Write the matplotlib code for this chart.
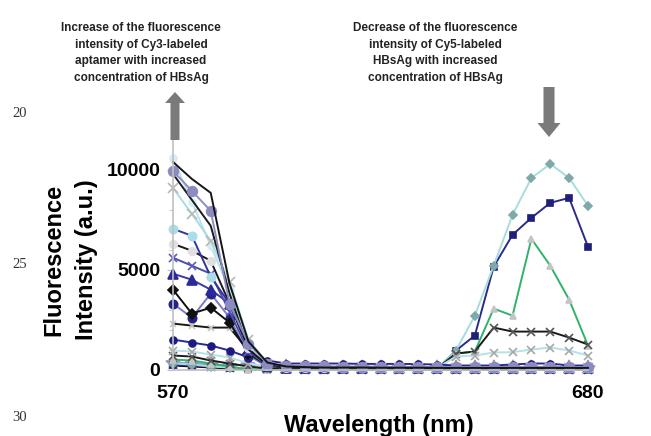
import matplotlib
matplotlib.use("Agg")
import matplotlib.pyplot as plt
from matplotlib.patches import FancyArrow

# wavelength grid (nm)
wavelength = [570, 575, 580, 585, 590, 595, 600, 605, 610, 615, 620, 625,
              630, 635, 640, 645, 650, 655, 660, 665, 670, 675, 680]

# fluorescence intensity (a.u.) for each spectrum
s_black_top = [10400, 9550, 8850, 4300, 1400, 350, 150, 120, 100, 100, 100, 90,
               90, 90, 80, 80, 80, 80, 80, 80, 80, 80, 80]
s_purple_circ = [9950, 8950, 7950, 3300, 1300, 300, 200, 180, 160, 150, 150, 140,
                 130, 130, 120, 120, 120, 120, 120, 120, 120, 120, 120]
s_black_2 = [9800, 8500, 7200, 3800, 1000, 250, 120, 100, 100, 90, 90, 80,
             80, 80, 70, 70, 70, 70, 70, 70, 70, 70, 70]
s_cyan_x = [9100, 7800, 6450, 4400, 1500, 300, 150, 130, 120, 110, 110, 100,
            100, 100, 100, 100, 100, 100, 100, 100, 100, 100, 100]
s_cyan_top = [10600, 8400, 6200, 4000, 1200, 250, 150, 130, 120, 110, 110, 100,
              100, 100, 100, 100, 100, 100, 100, 100, 100, 100, 100]
s_navy_cyan = [7050, 6700, 4650, 3300, 1300, 250, 120, 110, 110, 100, 100, 100,
               100, 100, 100, 100, 100, 100, 100, 100, 100, 100, 100]
s_black_gray = [6300, 5950, 5450, 3300, 1100, 200, 100, 100, 100, 100, 100, 90,
                90, 90, 90, 90, 90, 90, 90, 90, 90, 90, 90]
s_blue_x = [5600, 5200, 4800, 2900, 900, 200, 100, 100, 100, 100, 100, 100,
            100, 100, 100, 100, 100, 100, 100, 100, 100, 100, 100]
s_navy_tri = [4800, 4500, 4000, 3300, 1000, 200, 100, 100, 100, 100, 100, 100,
              100, 100, 100, 100, 100, 100, 100, 100, 100, 100, 100]
s_black_dia = [4000, 2800, 3100, 2350, 800, 200, 100, 90, 90, 90, 90, 90,
               90, 90, 90, 90, 90, 90, 90, 90, 90, 90, 90]
s_lav_circ = [3300, 2600, 3800, 2600, 700, 150, 100, 100, 100, 100, 100, 100,
              100, 100, 100, 100, 100, 100, 100, 100, 100, 100, 100]
s_black_flat = [2300, 2200, 2100, 2100, 950, 200, 80, 80, 80, 80, 80, 80,
                80, 80, 80, 80, 80, 80, 80, 80, 80, 80, 80]
s_navy_small = [1500, 1350, 1200, 950, 600, 450, 300, 300, 300, 300, 280, 280,
                280, 270, 250, 200, 200, 200, 250, 300, 300, 200, 200]
s_cyan_gray_x = [950, 900, 750, 600, 300, 150, 100, 100, 100, 100, 100, 100,
                 100, 100, 80, 650, 700, 850, 870, 1000, 1100, 950, 700]
s_black_x = [700, 650, 450, 300, 150, 50, 50, 50, 50, 50, 50, 50,
             50, 50, 50, 800, 900, 2100, 1900, 1900, 1900, 1600, 1250]
s_green = [500, 450, 300, 150, 0, 0, 0, 0, 0, 0, 0, 0,
           0, 0, 0, 800, 900, 3050, 2700, 6550, 5200, 3500, 1200]
s_cyan_dia = [300, 250, 150, 100, 50, 50, 50, 50, 50, 50, 50, 50,
              50, 50, 50, 950, 2700, 5200, 7750, 9600, 10300, 9600, 8200]
s_navy_sq = [250, 200, 150, 100, 50, 30, 30, 30, 30, 30, 30, 30,
             30, 30, 30, 950, 1700, 5150, 6750, 7600, 8350, 8600, 6150]
s_stars = [350, 300, 250, 200, 250, 150, 120, 100, 100, 100, 100, 100,
           100, 100, 100, 100, 100, 100, 100, 100, 100, 100, 100]
s_baseline = [200, 150, 100, 50, 0, 0, 0, 0, 0, 0, 0, 0,
              0, 0, 0, 0, 0, 0, 0, 0, 0, 0, 0]

# (values, line colour, marker, marker colour, marker size), drawn bottom-up
series = [
    (s_baseline, "#111111", None, None, 0),
    (s_stars, "#9a9ac8", "*", "#9595c4", 11),
    (s_navy_sq, "#2b2b8c", "s", "#1f1f78", 5),
    (s_cyan_dia, "#a9dcdc", "D", "#7fa8a8", 4),
    (s_green, "#2fb36a", "^", "#c4c4c4", 5),
    (s_black_x, "#1a1a1a", "x", "#555555", 6),
    (s_cyan_gray_x, "#b4e2e6", "x", "#a8a8a8", 6),
    (s_navy_small, "#2a2a96", "o", "#1c1c80", 5),
    (s_black_flat, "#1a1a1a", "x", "#c8c8c8", 5),
    (s_lav_circ, "#7b7bc4", "o", "#23238a", 6),
    (s_black_dia, "#111111", "D", "#111111", 5.5),
    (s_navy_tri, "#3a3aa6", "^", "#2a2a9a", 6.5),
    (s_blue_x, "#4c4cb0", "x", "#5a5abd", 6),
    (s_black_gray, "#1a1a1a", "o", "#e0e0e0", 5.5),
    (s_navy_cyan, "#3434a0", "o", "#a9dde8", 6),
    (s_cyan_top, "#b6e4ea", "o", "#d6eef2", 5),
    (s_cyan_x, "#a9dce2", "x", "#b8b8b8", 7),
    (s_black_2, "#1a1a1a", None, None, 0),
    (s_purple_circ, "#8d8dc4", "o", "#8b8bc2", 7),
    (s_black_top, "#151515", None, None, 0),
]

fig = plt.figure(figsize=(6.51, 4.36), dpi=100)
ax = fig.add_axes([173 / 651, 66.5 / 436, 415 / 651, 229.5 / 436])

for vals, lc, mk, mc, ms in series:
    ax.plot(wavelength, vals, color=lc, lw=1.4, marker=mk, ms=ms,
            mfc=mc, mec=mc, mew=1.2, clip_on=False)

ax.set_xlim(570, 680)
ax.set_ylim(0, 11500)
ax.set_xticks(wavelength)
ax.set_xticklabels([str(w) if w in (570, 680) else "" for w in wavelength])
ax.set_yticks([0, 5000, 10000])
ax.set_yticks([1000, 2000, 3000, 4000, 6000, 7000, 8000, 9000], minor=True)

for side in ("top", "right"):
    ax.spines[side].set_visible(False)
for side in ("left", "bottom"):
    ax.spines[side].set_color("#c0c0c0")
    ax.spines[side].set_linewidth(1.2)

ax.tick_params(axis="x", direction="in", length=4, color="#c8c8c8", pad=11,
               labelsize=14)
ax.tick_params(axis="y", which="both", direction="out", length=4,
               color="#c0c0c0", pad=5, labelsize=14)
ax.tick_params(axis="y", which="minor", length=3)
for lab in ax.get_xticklabels() + ax.get_yticklabels():
    lab.set_fontweight("bold")
    lab.set_fontfamily("Liberation Sans")

# overlay in pixel coordinates for annotations
ov = fig.add_axes([0, 0, 1, 1], facecolor="none")
ov.set_xlim(0, 651)
ov.set_ylim(436, 0)
ov.axis("off")

ov.text(70, 260, "Fluorescence\nIntensity (a.u.)", rotation=90, ha="center",
        va="center", fontsize=17, fontweight="bold", family="Liberation Sans",
        linespacing=1.5)
ov.text(379, 425, "Wavelength (nm)", ha="center", va="center", fontsize=17,
        fontweight="bold", family="Liberation Sans")

narrow = ["Liberation Sans Narrow", "Liberation Sans"]
ov.text(141, 53, "Increase of the fluorescence\nintensity of Cy3-labeled\n"
        "aptamer with increased\nconcentration of HBsAg", ha="center",
        va="center", fontsize=8.5, fontweight="bold", family=narrow,
        linespacing=1.52, color="#222222")
ov.text(435, 53, "Decrease of the fluorescence\nintensity of Cy5-labeled\n"
        "HBsAg with increased\nconcentration of HBsAg", ha="center",
        va="center", fontsize=8.5, fontweight="bold", family=narrow,
        linespacing=1.52, color="#222222")

ov.add_patch(FancyArrow(175, 140, 0, -48, width=9, head_width=20,
                        head_length=11, length_includes_head=True,
                        color="#7a7a7a", lw=0))
ov.add_patch(FancyArrow(549, 87, 0, 50, width=11, head_width=23,
                        head_length=14, length_includes_head=True,
                        color="#7a7a7a", lw=0))

for num, y in (("20", 113), ("25", 264), ("30", 417)):
    ov.text(20, y, num, ha="center", va="center", fontsize=10.5,
            family="Liberation Serif", color="#333333")

fig.savefig("out.png", dpi=100)
